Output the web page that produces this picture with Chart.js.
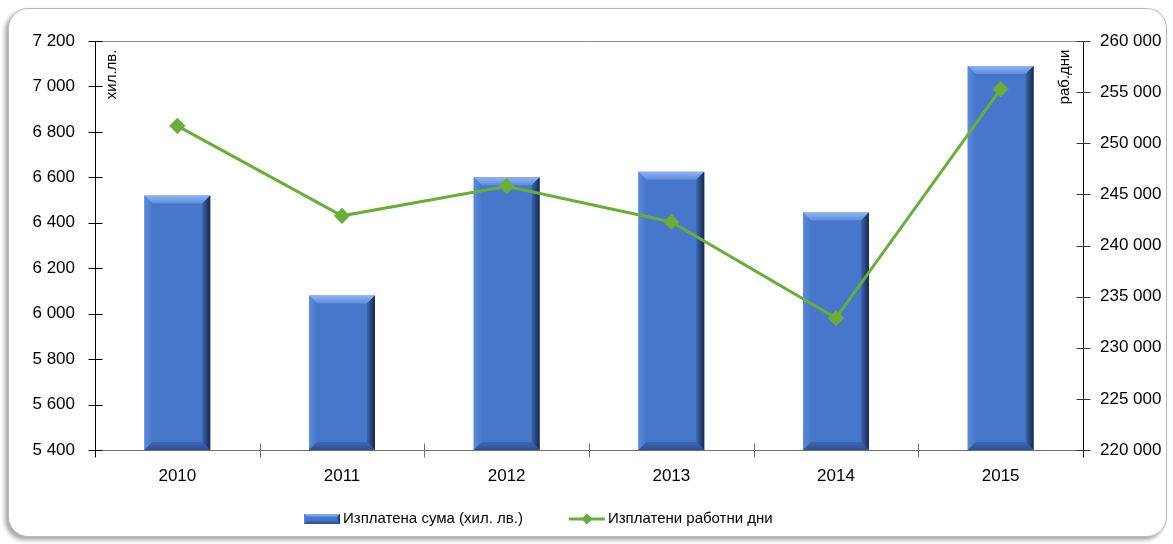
<!DOCTYPE html>
<html>
<head>
<meta charset="utf-8">
<script src="https://cdn.jsdelivr.net/npm/chart.js@4.4.1/dist/chart.umd.min.js"></script>
<style>
  html, body { margin: 0; padding: 0; background: #fff; }
  #wrap { position: relative; width: 1173px; height: 544px; overflow: hidden; }
  #frame {
    position: absolute; left: 8px; top: 8px; width: 1157px; height: 527px;
    border: 1px solid #b8b8b8; border-radius: 20px;
    box-shadow: -3px 3px 4px rgba(0, 0, 0, 0.35); background: #fff;
  }
  canvas { position: absolute; left: 0; top: 0; }
</style>
</head>
<body>
<div id="wrap">
  <div id="frame"></div>
  <canvas id="chart" width="1173" height="544"></canvas>
</div>
<script>
  // --- data ---
  const years = ['2010', '2011', '2012', '2013', '2014', '2015'];
  const paidSum = [6520, 6080, 6600, 6625, 6445, 7090];            // хил. лв.
  const paidDays = [251700, 242900, 245800, 242300, 232900, 255300]; // раб. дни
  const sumAxis = [5400, 7200, 200];
  const daysAxis = [220000, 260000, 5000];
  const seriesNames = ['Изплатена сума (хил. лв.)', 'Изплатени работни дни'];
  const axisTitles = ['хил.лв.', 'раб.дни'];

  const FONT = '"Liberation Sans", Arial, sans-serif';
  const BLUE = '#4777cb';
  const GREEN = '#6aad3d';

  // thousands with a space: 7 200, 255 000
  const fmt = v => String(v).replace(/\B(?=(\d{3})+(?!\d))/g, ' ');

  function poly(ctx, pts, fill) {
    ctx.beginPath();
    ctx.moveTo(pts[0][0], pts[0][1]);
    pts.slice(1).forEach(p => ctx.lineTo(p[0], p[1]));
    ctx.closePath();
    ctx.fillStyle = fill;
    ctx.fill();
  }

  function linGrad(ctx, x0, y0, x1, y1, c0, c1) {
    const g = ctx.createLinearGradient(x0, y0, x1, y1);
    g.addColorStop(0, c0);
    g.addColorStop(1, c1);
    return g;
  }

  // bevelled edges on a box l..r / t..b
  function drawBevel(ctx, l, r, t, b, d) {
    poly(ctx, [[l, t], [r, t], [r - d, t + d], [l + d, t + d]],
      linGrad(ctx, 0, t, 0, t + d, '#8fb4f0', '#5f8ddb'));
    poly(ctx, [[l, t], [l + d, t + d], [l + d, b - d], [l, b]],
      linGrad(ctx, l, 0, l + d, 0, '#5e8bd8', BLUE));
    poly(ctx, [[l, b], [r, b], [r - d, b - d], [l + d, b - d]],
      linGrad(ctx, 0, b - d, 0, b, '#3f68b3', '#2c4f8e'));
    poly(ctx, [[r, t], [r, b], [r - d, b - d], [r - d, t + d]],
      linGrad(ctx, r - d, 0, r, 0, '#3d66b0', '#16284c'));
  }

  const bevelPlugin = {
    id: 'bevel',
    afterDatasetDraw(chart, args) {
      if (args.index !== 0) return;
      const ctx = chart.ctx;
      ctx.save();
      args.meta.data.forEach(bar => {
        const p = bar.getProps(['x', 'y', 'base', 'width'], true);
        const base = Math.min(p.base, chart.chartArea.bottom);
        drawBevel(ctx, p.x - p.width / 2, p.x + p.width / 2, p.y, base, 8);
      });
      ctx.restore();
    }
  };

  // legend swatches
  function barSwatch(ctx, x, y) {
    ctx.fillStyle = BLUE;
    ctx.fillRect(x, y - 5, 36, 10);
    drawBevel(ctx, x, x + 36, y - 5, y + 5, 3);
  }
  function lineSwatch(ctx, x, y) {
    ctx.strokeStyle = GREEN; ctx.lineWidth = 3;
    ctx.beginPath(); ctx.moveTo(x, y); ctx.lineTo(x + 36, y); ctx.stroke();
    ctx.fillStyle = GREEN;
    ctx.beginPath();
    ctx.moveTo(x + 18, y - 5.5); ctx.lineTo(x + 23.5, y); ctx.lineTo(x + 18, y + 5.5); ctx.lineTo(x + 12.5, y);
    ctx.closePath(); ctx.fill();
  }

  // axes with ticks crossing the axis lines, rotated titles and the legend
  const axesPlugin = {
    id: 'axes',
    afterDatasetsDraw(chart) {
      const { ctx, chartArea: a, scales } = chart;
      const L = Math.round(a.left) + 0.5, R = Math.round(a.right) + 0.5;
      const T = Math.round(a.top) + 0.5, B = Math.round(a.bottom) + 0.5;
      const line = (x0, y0, x1, y1, c) => {
        ctx.beginPath(); ctx.moveTo(x0, y0); ctx.lineTo(x1, y1);
        ctx.strokeStyle = c; ctx.stroke();
      };
      ctx.save();
      ctx.lineWidth = 1;
      line(L, T, R, T, '#8c8c8c');
      line(L, B, R, B, '#6e6e6e');
      line(L, T, L, B + 7, '#000');
      line(R, T, R, B + 7, '#000');
      scales.y.ticks.forEach(t => {
        const yy = Math.round(scales.y.getPixelForValue(t.value)) + 0.5;
        line(L - 7, yy, L + 7, yy, '#000');
      });
      scales.y1.ticks.forEach(t => {
        const yy = Math.round(scales.y1.getPixelForValue(t.value)) + 0.5;
        line(R - 7, yy, R + 7, yy, '#3a3a3a');
      });
      const n = scales.x.ticks.length;
      for (let i = 1; i < n; i++) {
        const xx = Math.round((scales.x.getPixelForTick(i - 1) + scales.x.getPixelForTick(i)) / 2) + 0.5;
        line(xx, B - 7, xx, B + 7, '#6e6e6e');
      }
      ctx.restore();

      // rotated axis titles inside the plot
      [[L + 16, axisTitles[0]], [R - 19, axisTitles[1]]].forEach(([x, txt]) => {
        ctx.save();
        ctx.fillStyle = '#000';
        ctx.font = '15px ' + FONT;
        ctx.textAlign = 'right';
        ctx.textBaseline = 'middle';
        ctx.translate(x, T + 8);
        ctx.rotate(-Math.PI / 2);
        ctx.fillText(txt, 0, 0);
        ctx.restore();
      });

      // legend
      ctx.save();
      ctx.font = '15px ' + FONT;
      ctx.textBaseline = 'middle';
      ctx.textAlign = 'left';
      const w1 = ctx.measureText(seriesNames[0]).width;
      const w2 = ctx.measureText(seriesNames[1]).width;
      const total = 36 + 3 + w1 + 46 + 36 + 3 + w2;
      let x = Math.round(538 - total / 2);
      const y = 519;
      barSwatch(ctx, x, y);
      ctx.fillStyle = '#000';
      ctx.fillText(seriesNames[0], x + 39, y);
      x += 39 + w1 + 46;
      lineSwatch(ctx, x, y);
      ctx.fillStyle = '#000';
      ctx.fillText(seriesNames[1], x + 39, y);
      ctx.restore();
    }
  };

  const tickFont = { family: FONT, size: 17 };

  new Chart(document.getElementById('chart'), {
    data: {
      labels: years,
      datasets: [
        {
          type: 'bar',
          label: seriesNames[0],
          data: paidSum,
          yAxisID: 'y',
          backgroundColor: BLUE,
          borderWidth: 0,
          barPercentage: 0.8,
          categoryPercentage: 0.5,
          order: 1
        },
        {
          type: 'line',
          label: seriesNames[1],
          data: paidDays,
          yAxisID: 'y1',
          borderColor: GREEN,
          backgroundColor: GREEN,
          borderWidth: 3,
          pointStyle: 'rectRot',
          pointRadius: 6,
          pointHoverRadius: 6,
          tension: 0,
          order: 0
        }
      ]
    },
    options: {
      responsive: false,
      animation: false,
      devicePixelRatio: 1,
      layout: { padding: { left: 8, right: 0, top: 41, bottom: 48 } },
      scales: {
        x: {
          offset: true,
          grid: { display: false, drawTicks: false },
          border: { display: false },
          ticks: { color: '#000', font: tickFont, padding: 16 },
          afterFit: s => { s.height = 46; }
        },
        y: {
          position: 'left',
          min: sumAxis[0], max: sumAxis[1],
          grid: { display: false, drawTicks: false },
          border: { display: false },
          ticks: { stepSize: sumAxis[2], color: '#000', font: tickFont, padding: 20, callback: v => fmt(v) },
          afterFit: s => { s.width = 87; }
        },
        y1: {
          position: 'right',
          min: daysAxis[0], max: daysAxis[1],
          grid: { display: false, drawTicks: false },
          border: { display: false },
          ticks: { stepSize: daysAxis[2], color: '#000', font: tickFont, padding: 17, callback: v => fmt(v) },
          afterFit: s => { s.width = 90; }
        }
      },
      plugins: {
        tooltip: { enabled: false },
        legend: { display: false }
      }
    },
    plugins: [bevelPlugin, axesPlugin]
  });
</script>
</body>
</html>
